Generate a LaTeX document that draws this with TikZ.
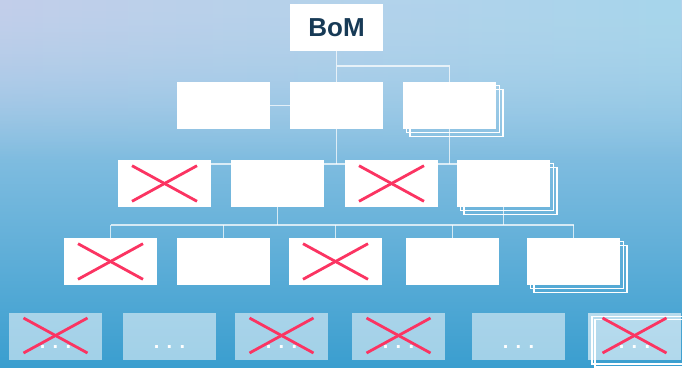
\documentclass[tikz,border=0pt]{standalone}
\usepackage{fontspec}
\setmainfont{Liberation Sans}
\usetikzlibrary{calc,fadings}
\definecolor{bgtop}{HTML}{B3D3EC}
\definecolor{bgbot}{HTML}{3A9ECF}
\definecolor{tintl}{HTML}{C3CEEA}
\definecolor{tintr}{HTML}{A6D6EB}
\definecolor{crossred}{HTML}{FB3462}
\definecolor{bomtext}{HTML}{173A56}
\pgfdeclarelayer{bg}
\pgfdeclarelayer{back}
\pgfsetlayers{bg,back,main}
\tikzfading[name=topfade, top color=transparent!0, bottom color=transparent!100]
\tikzset{
  box/.style={fill=white, minimum width=93pt, minimum height=47pt, inner sep=0pt, outer sep=0pt},
  ghost/.style={fill=white, fill opacity=0.52, minimum width=93pt, minimum height=47pt, inner sep=0pt, outer sep=0pt},
  conn/.style={draw=white, draw opacity=0.72, line width=1.6pt},
  stackline/.style={draw=white, line width=1.2pt},
  xmark/.style={draw=crossred, line width=2.8pt},
  dots/.style={text=white, font=\bfseries\fontsize{20}{20}\selectfont, anchor=base, inner sep=0pt},
}
\begin{document}
\begin{tikzpicture}[x=1pt, y=-1pt]
\useasboundingbox (0,0) rectangle (682,367);
\clip (0,0) rectangle (682,367);
\begin{pgfonlayer}{bg}
  \shade[top color=bgtop, bottom color=bgbot] (0,0) rectangle (682,367);
  \shade[left color=tintl, right color=tintr, path fading=topfade] (0,0) rectangle (682,160);
\end{pgfonlayer}

% row 0
\node[box, text=bomtext, font=\bfseries\fontsize{26}{26}\selectfont] (BoM) at (336.5,27.5) {BoM};
% row 1
\node[box] (A) at (223.5,105.5) {};
\node[box] (B) at (336.5,105.5) {};
\node[box] (C) at (449.5,105.5) {};
% row 2
\node[box] (D) at (164.5,183.5) {};
\node[box] (E) at (277.5,183.5) {};
\node[box] (F) at (391.5,183.5) {};
\node[box] (G) at (503.5,183.5) {};
% row 3
\node[box] (H) at (110.5,261.5) {};
\node[box] (I) at (223.5,261.5) {};
\node[box] (J) at (335.5,261.5) {};
\node[box] (K) at (452.5,261.5) {};
\node[box] (L) at (573.5,261.5) {};
% row 4
\node[ghost] (M) at (55.5,336.5) {};
\node[ghost] (N) at (169.5,336.5) {};
\node[ghost] (O) at (281.5,336.5) {};
\node[ghost] (P) at (398.5,336.5) {};
\node[ghost] (Q) at (518.5,336.5) {};

\coordinate (j1) at (336.5,66);
\coordinate (r2) at (0,164);
\coordinate (r3) at (0,225);

\begin{pgfonlayer}{back}
  % connectors
  \draw[conn] (BoM.south) -- (B.south) -- (B.south |- r2);
  \draw[conn] (j1) -| (C.north);
  \draw[conn] (C.south) -- (C.south |- r2);
  \draw[conn] (B.center) -- (A.center);
  \draw[conn] (D.center |- r2) -- (G.center |- r2);
  \draw[conn] (E.south) -- (E.south |- r3);
  \draw[conn] (G.south) -- (G.south |- r3);
  \draw[conn] (H.north |- r3) -- (L.north |- r3);
  \foreach \n in {H,I,J,K,L} \draw[conn] (\n.north |- r3) -- (\n.north);
  % stacks
  \foreach \n in {C,G,L} {
    \draw[stackline] ($(\n.north west)+(3.5,3.5)$) rectangle ($(\n.south east)+(3.5,3.5)$);
    \draw[stackline] ($(\n.north west)+(7,7.5)$) rectangle ($(\n.south east)+(7,7.5)$);
  }
  \draw[stackline] (592,316.5) rectangle (690,364);
  \draw[stackline] (595,319.5) rectangle (693,367);
\end{pgfonlayer}

\node[ghost, fill opacity=0.6] (R) at (634.5,336.5) {};

% dots
\foreach \n in {M,N,O,P,Q,R} \node[dots] at ($(\n.center)+(0,11.5)$) {. . .};

% crosses
\foreach \n in {D,F,H,J} {
  \draw[xmark] ($(\n.north west)+(14,5.7)$) -- ($(\n.south east)+(-14,-5.7)$);
  \draw[xmark] ($(\n.south west)+(14,-5.7)$) -- ($(\n.north east)+(-14,5.7)$);
}
\foreach \n in {M,O,P,R} {
  \draw[xmark] ($(\n.north west)+(14.5,5)$) -- ($(\n.south east)+(-14.5,-7)$);
  \draw[xmark] ($(\n.south west)+(14.5,-7)$) -- ($(\n.north east)+(-14.5,5)$);
}
\end{tikzpicture}
\end{document}
